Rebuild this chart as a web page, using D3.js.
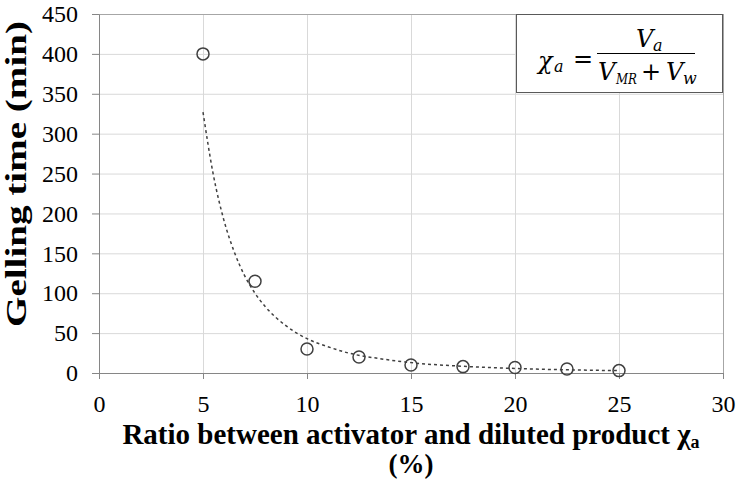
<!DOCTYPE html>
<html>
<head>
<meta charset="utf-8">
<script src="https://cdn.jsdelivr.net/npm/d3@7"></script>
<style>
  body { margin: 0; background: #fff; }
</style>
</head>
<body>
<div id="chart"></div>
<script>
// measured points
const ratio = [5, 7.5, 10, 12.5, 15, 17.5, 20, 22.5, 25];
const gellingTime = [400, 115, 30, 20, 10, 8, 7, 5, 3];

// dashed trend curve
const trendX = [5, 5.5, 6, 6.5, 7, 7.5, 8, 9, 10, 11, 12, 13.5, 15, 17.5, 20, 22.5, 25];
const trendY = [327, 248, 192, 152, 122, 100, 83, 59, 43, 33, 25, 18, 13, 8.4, 5.7, 4, 3];

const xTicks = [0, 5, 10, 15, 20, 25, 30];
const yTicks = [0, 50, 100, 150, 200, 250, 300, 350, 400, 450];

const textFont = "Liberation Serif";
const mathFont = "DejaVu Serif";

function createScatterGelling(selector = "#chart") {
    const width = 737;
    const height = 479;
    const margin = { top: 14, right: 14, bottom: 106, left: 99 };

    const svg = d3.select(selector)
        .html("")
        .append("svg")
        .attr("width", width)
        .attr("height", height);

    const x = d3.scaleLinear()
        .domain([0, 30])
        .range([margin.left, width - margin.right]);

    const y = d3.scaleLinear()
        .domain([0, 450])
        .range([height - margin.bottom, margin.top]);

    // grid
    svg.append("g")
        .attr("transform", `translate(0,${height - margin.bottom})`)
        .call(d3.axisBottom(x).tickValues(xTicks.slice(1)).tickSize(-(y(0) - y(450))).tickFormat(""))
        .call(g => g.select(".domain").remove())
        .call(g => g.selectAll("line").attr("stroke", d => d === 30 ? "#a6a6a6" : "#d9d9d9"));

    svg.append("g")
        .attr("transform", `translate(${margin.left},0)`)
        .call(d3.axisLeft(y).tickValues(yTicks.slice(1)).tickSize(-(x(30) - x(0))).tickFormat(""))
        .call(g => g.select(".domain").remove())
        .call(g => g.selectAll("line").attr("stroke", d => d === 450 ? "#a6a6a6" : "#d9d9d9"));

    // axes
    svg.append("g")
        .attr("transform", `translate(0,${height - margin.bottom})`)
        .call(d3.axisBottom(x).tickValues(xTicks).tickSize(6).tickSizeOuter(0).tickPadding(16))
        .call(g => g.select(".domain").attr("stroke", "#868686"))
        .call(g => g.selectAll("line").attr("stroke", "#868686"))
        .call(g => g.selectAll("text")
            .attr("font-family", textFont)
            .attr("font-size", 24)
            .attr("fill", "#000"));

    svg.append("g")
        .attr("transform", `translate(${margin.left},0)`)
        .call(d3.axisLeft(y).tickValues(yTicks).tickSize(7).tickSizeOuter(0).tickPadding(14))
        .call(g => g.select(".domain").attr("stroke", "#868686"))
        .call(g => g.selectAll("line").attr("stroke", "#868686"))
        .call(g => g.selectAll("text")
            .attr("font-family", textFont)
            .attr("font-size", 24)
            .attr("fill", "#000"));

    // axis titles
    const xTitle = svg.append("text")
        .attr("x", (x(0) + x(30)) / 2)
        .attr("y", 444)
        .attr("text-anchor", "middle")
        .attr("font-family", textFont)
        .attr("font-size", 29)
        .attr("font-weight", "bold");
    xTitle.append("tspan").text("Ratio between activator and diluted product χ");
    xTitle.append("tspan").attr("dy", 4).attr("font-size", 18).text("a");

    svg.append("text")
        .attr("x", (x(0) + x(30)) / 2)
        .attr("y", 473)
        .attr("text-anchor", "middle")
        .attr("font-family", textFont)
        .attr("font-size", 27)
        .attr("font-weight", "bold")
        .text("(%)");

    svg.append("text")
        .attr("transform", "rotate(-90)")
        .attr("x", -174)
        .attr("y", 26)
        .attr("text-anchor", "middle")
        .attr("font-family", textFont)
        .attr("font-size", 30)
        .attr("font-weight", "bold")
        .attr("textLength", 306)
        .attr("lengthAdjust", "spacingAndGlyphs")
        .text("Gelling time (min)");

    // markers
    svg.selectAll(".dot")
        .data(ratio.map((r, i) => ({ r, t: gellingTime[i] })))
        .join("circle")
        .attr("class", "dot")
        .attr("cx", d => x(d.r))
        .attr("cy", d => y(d.t))
        .attr("r", 6)
        .attr("fill", "none")
        .attr("stroke", "#404040")
        .attr("stroke-width", 1.5);

    // trend line
    const line = d3.line()
        .x(d => x(d[0]))
        .y(d => y(d[1]))
        .curve(d3.curveMonotoneX);

    svg.append("path")
        .datum(trendX.map((v, i) => [v, trendY[i]]))
        .attr("d", line)
        .attr("fill", "none")
        .attr("stroke", "#404040")
        .attr("stroke-width", 1.5)
        .attr("stroke-dasharray", "3,3");

    // formula box
    const box = svg.append("g");

    box.append("rect")
        .attr("x", 516.5)
        .attr("y", 14.5)
        .attr("width", 206)
        .attr("height", 78)
        .attr("fill", "#fff")
        .attr("stroke", "#595959")
        .attr("stroke-width", 1);

    const piece = (txt, px, py, size, upright) => box.append("text")
        .attr("x", px)
        .attr("y", py)
        .attr("font-family", mathFont)
        .attr("font-style", upright ? "normal" : "italic")
        .attr("font-size", size)
        .text(txt);

    piece("χ", 538, 69, 24);
    piece("a", 554, 72, 16);
    piece("=", 573, 67, 24, true);

    box.append("line")
        .attr("x1", 597)
        .attr("x2", 695)
        .attr("y1", 53.5)
        .attr("y2", 53.5)
        .attr("stroke", "#000")
        .attr("stroke-width", 1.2);

    piece("V", 636, 47, 24);
    piece("a", 653, 51, 16);

    piece("V", 598, 80, 24);
    piece("MR", 616, 84, 15)
        .attr("textLength", 21)
        .attr("lengthAdjust", "spacingAndGlyphs");
    piece("+", 641, 80, 24, true);
    piece("V", 666, 80, 24);
    piece("w", 683, 84, 16);
}

createScatterGelling();
</script>
</body>
</html>
